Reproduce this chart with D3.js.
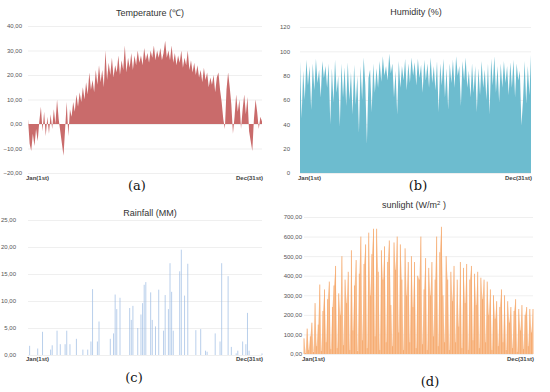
<!DOCTYPE html>
<meta charset="utf-8">
<style>
body {
  margin: 0;
  background-color: #fff;
}
svg {
  display: block;
  background-color: #fff;
}
.grid line {
  stroke: #ebebeb;
  stroke-width: 0.8px;
}
.grid path {
  stroke: none;
}
.grid text {
  font-family: "Liberation Sans", Arial, sans-serif;
  font-size: 6px;
  fill: #555;
}
.title {
  font-family: "Liberation Sans", Arial, sans-serif;
  font-size: 9px;
  fill: #333;
  text-anchor: middle;
}
.ends {
  font-family: "Liberation Sans", Arial, sans-serif;
  font-size: 6px;
  font-weight: bold;
  fill: #444;
}
.letter {
  font-family: "DejaVu Serif", "Liberation Serif", serif;
  font-size: 13px;
  fill: #111;
  text-anchor: middle;
}
</style>
<body>
<script src="https://d3js.org/d3.v7.min.js"></script>
<script>
// daily-ish readings over the year
var temperature = [
  2,-8,-11,-4,-9,-2,-7,1,7,-3,
  5,-5,3,-4,4,-2,6,0,10,2,
  -3,-8,-13,-2,9,-5,6,3,9,5,
  12,7,13,9,15,10,17,12,21,14,
  18,13,22,16,24,17,22,15,30,18,
  25,20,27,19,24,21,28,20,26,22,
  32,21,27,23,29,22,28,24,30,25,
  28,24,31,26,29,25,30,27,32,26,
  30,27,31,26,29,34,27,30,26,32,
  25,29,24,28,25,30,23,27,24,30,
  22,26,21,25,20,24,19,22,17,23,
  18,21,15,19,16,20,13,19,21,14,
  9,2,-2,14,21,15,8,-4,3,12,
  5,10,-2,6,12,4,11,-3,-7,-11,
  2,10,5,-2,3,1
];

var humidity = [
  92,45,84,60,93,72,88,52,90,68,
  94,74,85,62,92,78,88,70,90,40,
  86,58,93,66,80,38,90,62,87,55,
  91,60,83,48,89,56,80,33,88,60,
  95,72,24,78,85,50,90,66,86,70,
  92,75,96,80,88,76,98,82,90,62,
  84,48,92,70,88,76,94,68,90,74,
  95,80,91,72,94,78,89,66,93,76,
  90,70,95,74,88,68,92,50,90,72,
  94,62,86,52,90,74,93,70,96,80,
  88,55,92,76,95,70,84,62,90,66,
  88,50,86,64,92,70,85,60,90,48,
  94,72,96,66,88,58,90,70,92,74,
  88,64,91,70,93,62,90,76,84,39,
  60,92,57,88,64,97
];

var rainfall = [
  0,1.7,0,0,0,0,1.2,0,0,4.3,
  0,0,0,0,1.0,1.8,0,0,4.5,0,
  2.0,0,0,2.0,4.5,0,2.0,0,0,0,
  3.0,0,0,0,1.0,0,0,1.0,0,2.5,
  12.2,0,0,2.5,6.2,0,0,0,0,0,
  0,3.0,0,4.0,11.2,8.5,0,10.6,0,0,
  0,0,0,8.7,6.5,9.1,0,0,5.0,0,
  7.5,9.6,13.0,13.5,0,0,11.6,6.5,0,5.3,
  0,12.1,0,0,4.5,11.1,0,8.5,17.0,11.7,
  4.5,0,0,0,15.5,19.5,0,11.0,0,16.9,
  0,0,0,0,4.6,0,0,4.8,0,0,
  0.8,0.6,0,0,0,0,4.0,0,0,2.5,
  17.0,0,0,0,14.6,0,1.5,0,0,0.3,
  0.8,0,0,2.5,0,2.0,7.8,0.8,0,0,
  0,0,0,0,0,0.3
];

var sunlight = [
  80,5,130,20,90,160,10,260,40,150,
  355,15,220,330,60,280,370,25,240,350,
  450,30,310,200,500,45,380,260,420,20,
  530,120,350,480,15,410,600,70,460,560,
  30,620,300,510,640,90,640,420,20,530,
  380,550,60,470,580,250,40,570,430,600,
  110,560,380,20,540,300,470,60,500,240,
  470,30,400,380,600,50,330,490,20,440,
  300,470,90,380,600,40,520,650,300,60,
  500,380,20,420,270,450,60,380,140,470,
  30,440,260,460,20,380,450,70,410,250,
  420,30,390,280,380,60,370,200,330,20,
  300,180,270,40,240,330,60,300,20,270,
  160,240,30,220,280,10,230,120,250,25,
  200,240,40,230,110,230
];

// axis tick values
var tempTicks = [-20, -10, 0, 10, 20, 30, 40];
var humidityTicks = [0, 20, 40, 60, 80, 100, 120];
var rainTicks = [0, 5, 10, 15, 20, 25];
var sunTicks = [0, 100, 200, 300, 400, 500, 600, 700];

var startLabel = "Jan(1st)";
var endLabel = "Dec(31st)";

var svg = d3.select("body").append("svg")
    .attr("width", 550)
    .attr("height", 392);

// comma as decimal mark, like the original
var locale = d3.formatLocale({decimal: ",", thousands: ".", grouping: [3], currency: ["", ""]});
var commaFmt = locale.format(".2f");
var intFmt = locale.format("d");

// mode: "area" = filled zigzag, "bars" = thin columns, "both" = light area + thin columns
var panels = [
  {values: temperature, ticks: tempTicks, fmt: commaFmt, domain: [-20, 40], mode: "area",
   x0: 28, x1: 262, yTop: 26, yBot: 173, pad: 6, color: "#c96b6b", opacity: 1,
   title: "Temperature (℃)", tx: 150, ty: 16, endY: 180, letter: "(a)", lx: 137, ly: 190},
  {values: humidity, ticks: humidityTicks, fmt: intFmt, domain: [0, 120], mode: "area",
   x0: 300, x1: 531, yTop: 27, yBot: 173, pad: 10, color: "#6dbccf", opacity: 1,
   title: "Humidity (%)", tx: 416, ty: 15, endY: 180, letter: "(b)", lx: 418, ly: 190},
  {values: rainfall, ticks: rainTicks, fmt: commaFmt, domain: [0, 25], mode: "bars",
   x0: 28, x1: 262, yTop: 220, yBot: 355, pad: 12, color: "#9bbae2", opacity: 0.7, barW: 1,
   title: "Rainfall (MM)", tx: 150, ty: 216, endY: 361, letter: "(c)", lx: 134, ly: 382},
  {values: sunlight, ticks: sunTicks, fmt: commaFmt, domain: [0, 700], mode: "both",
   x0: 304, x1: 533, yTop: 217, yBot: 354, pad: 2, color: "#f9c49a", opacity: 0.9,
   barColor: "#f4a262", barW: 0.9,
   title: "sunlight (W/m", tx: 414, ty: 208, endY: 361, letter: "(d)", lx: 430, ly: 386}
];

panels.forEach(function(p, k) {
  var x = d3.scaleLinear()
      .domain([0, p.values.length - 1])
      .range([p.x0, p.x1]);
  var y = d3.scaleLinear()
      .domain(p.domain)
      .range([p.yBot, p.yTop]);

  // gridlines + tick labels
  svg.append("g")
      .attr("class", "grid")
      .attr("transform", "translate(" + p.x0 + ",0)")
      .call(d3.axisLeft(y)
          .tickValues(p.ticks)
          .tickSize(-(p.x1 - p.x0))
          .tickPadding(p.pad)
          .tickFormat(p.fmt));

  if (p.mode != "bars") {
    var area = d3.area()
        .x(function(d, i) { return x(i); })
        .y0(y(0))
        .y1(function(d) { return y(d); });

    svg.append("path")
        .datum(p.values)
        .attr("fill", p.color)
        .attr("fill-opacity", p.opacity)
        .attr("d", area);
  }

  if (p.mode != "area") {
    svg.append("g").selectAll("rect")
        .data(p.values)
        .enter().append("rect")
        .attr("x", function(d, i) { return x(i) - p.barW / 2; })
        .attr("width", p.barW)
        .attr("y", function(d) { return y(d); })
        .attr("height", function(d) { return y(0) - y(d); })
        .attr("fill", p.barColor || p.color)
        .attr("fill-opacity", p.mode == "both" ? 0.85 : p.opacity);
  }

  // title
  var t = svg.append("text")
      .attr("class", "title")
      .attr("x", p.tx)
      .attr("y", p.ty)
      .text(p.title);
  if (k == 3) {
    t.append("tspan").attr("dy", -3).style("font-size", "6px").text("2");
    t.append("tspan").attr("dy", 3).text(" )");
  }

  // year ends
  svg.append("text")
      .attr("class", "ends")
      .attr("x", p.x0 - 2)
      .attr("y", p.endY)
      .text(startLabel);
  svg.append("text")
      .attr("class", "ends")
      .attr("x", p.x1 + 1)
      .attr("y", p.endY)
      .attr("text-anchor", "end")
      .text(endLabel);

  svg.append("text")
      .attr("class", "letter")
      .attr("x", p.lx)
      .attr("y", p.ly)
      .text(p.letter);
});
</script>
</body>
